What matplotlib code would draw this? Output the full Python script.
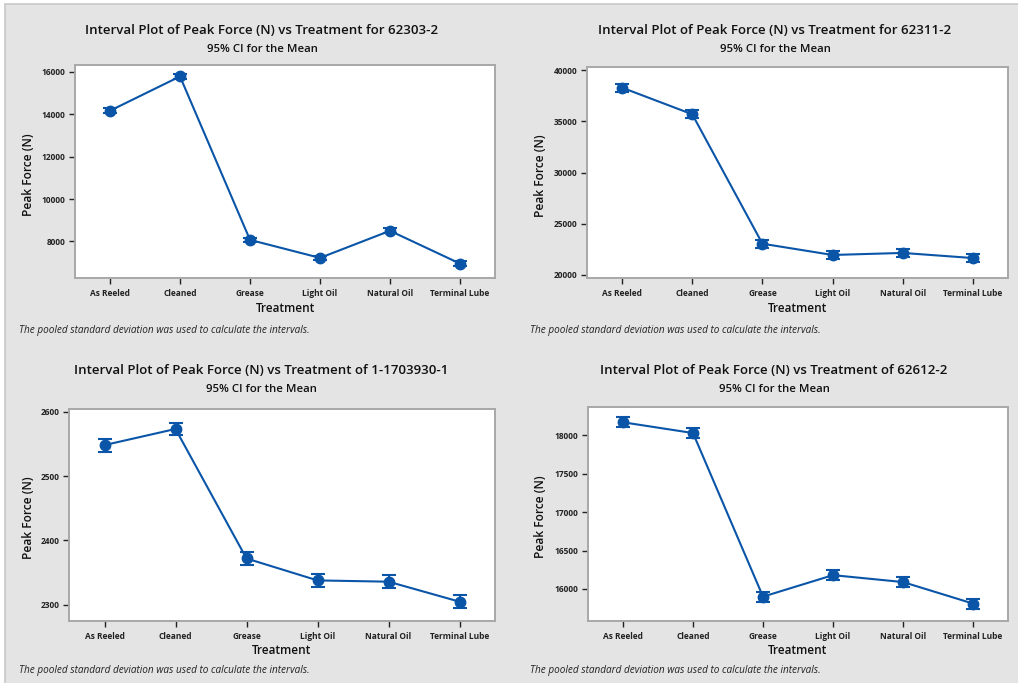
import matplotlib.pyplot as plt
from matplotlib.patches import Rectangle

plt.rcParams['font.family'] = ['Open Sans', 'DejaVu Sans']

# data
treatments = ["As Reeled", "Cleaned", "Grease", "Light Oil", "Natural Oil", "Terminal Lube"]

means_62303 = [14170, 15790, 8070, 7220, 8500, 6950]
ci_62303 = 110

means_62311 = [38300, 35700, 23050, 21950, 22150, 21650]
ci_62311 = 380

means_1703930 = [2548, 2573, 2372, 2338, 2336, 2305]
ci_1703930 = 10

means_62612 = [18170, 18030, 15900, 16180, 16090, 15810]
ci_62612 = 65

titles = [
    "Interval Plot of Peak Force (N) vs Treatment for 62303-2",
    "Interval Plot of Peak Force (N) vs Treatment for 62311-2",
    "Interval Plot of Peak Force (N) vs Treatment of 1-1703930-1",
    "Interval Plot of Peak Force (N) vs Treatment of 62612-2",
]
subtitle = "95% CI for the Mean"
footnote = "The pooled standard deviation was used to calculate the intervals."

W, H = 1018, 683
BLUE = '#0a55a8'
BG = '#e4e4e4'

fig = plt.figure(figsize=(W / 100, H / 100), dpi=100, facecolor='white')

# gray background with thin white margin top/left like the screenshot
fig.patches.append(Rectangle((5 / W, -0.01), 1, 1.01 - 4 / H, transform=fig.transFigure,
                             facecolor=BG, edgecolor='#c8c8c8', linewidth=1.2, zorder=-10))


def px_axes(left, top, right, bottom):
    # pixel box -> figure fraction
    return fig.add_axes([left / W, 1 - bottom / H, (right - left) / W, (bottom - top) / H])


def interval_plot(box, means, ci, ylim, yticks, title, cx, ty, ylab_x, treat_y, foot_x, foot_y):
    ax = px_axes(*box)
    x = list(range(len(treatments)))
    ax.errorbar(x, means, yerr=ci, color=BLUE, ecolor=BLUE, marker='o', markersize=7.5,
                linewidth=1.5, elinewidth=1.5, capsize=5, capthick=1.5, zorder=3)
    ax.set_xlim(-0.5, len(treatments) - 0.5)
    ax.set_ylim(*ylim)
    ax.set_yticks(yticks)
    ax.set_xticks(x)
    ax.set_xticklabels(treatments, fontsize=6, fontweight='bold', color='#222222')
    ax.tick_params(axis='y', labelsize=6, colors='#222222', length=4, width=1, pad=3)
    ax.tick_params(axis='x', length=4, width=1, pad=4, colors='#222222')
    for lab in ax.get_yticklabels():
        lab.set_fontweight('bold')
    for s in ax.spines.values():
        s.set_color('#a8a8a8')
        s.set_linewidth(1.4)
    ax.set_facecolor('white')

    fig.text(cx / W, 1 - ty / H, title, ha='center', va='center', fontsize=9.5,
             fontweight='semibold', color='#111111')
    fig.text(cx / W, 1 - (ty + 19) / H, subtitle, ha='center', va='center', fontsize=8.2,
             fontweight='semibold', color='#111111')
    fig.text(ylab_x / W, 1 - ((box[1] + box[3]) / 2 + 3) / H, "Peak Force (N)", rotation=90,
             ha='center', va='center', fontsize=8.6, fontweight='semibold', color='#111111')
    fig.text((box[0] + box[2]) / 2 / W, 1 - treat_y / H, "Treatment", ha='center', va='center',
             fontsize=8.5, fontweight='semibold', color='#111111')
    fig.text(foot_x / W, 1 - foot_y / H, footnote, ha='left', va='center', fontsize=7.2,
             style='italic', color='#222222')
    return ax


interval_plot((75, 65, 495, 278), means_62303, ci_62303, (6270, 16330),
              [8000, 10000, 12000, 14000, 16000], titles[0], 262, 30, 29, 308, 19, 331)
interval_plot((587, 67, 1008, 278), means_62311, ci_62311, (19700, 40320),
              [20000, 25000, 30000, 35000, 40000], titles[1], 775, 30, 541, 308, 530, 331)
interval_plot((69, 409, 495, 621), means_1703930, ci_1703930, (2275, 2604),
              [2300, 2400, 2500, 2600], titles[2], 261, 371, 29, 650, 19, 671)
interval_plot((588, 407, 1008, 621), means_62612, ci_62612, (15583, 18369),
              [16000, 16500, 17000, 17500, 18000], titles[3], 774, 371, 541, 650, 530, 671)

fig.savefig('out.png', dpi=100, facecolor=fig.get_facecolor())
